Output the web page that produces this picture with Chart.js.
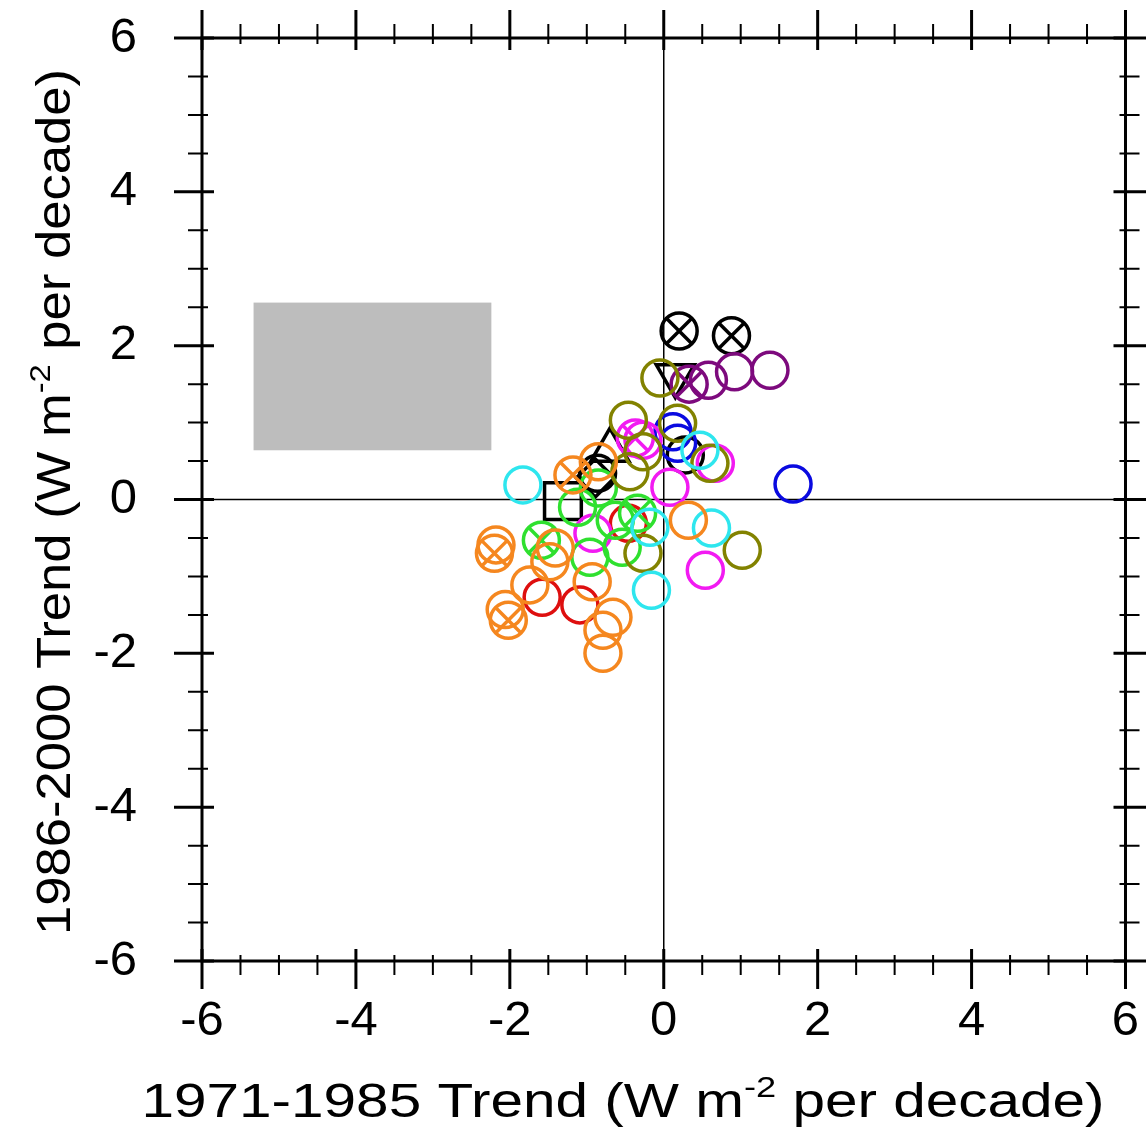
<!DOCTYPE html>
<html>
<head>
<meta charset="utf-8">
<script src="https://cdn.jsdelivr.net/npm/chart.js@4.4.0/dist/chart.umd.min.js"></script>
<style>
    html, body { margin: 0; padding: 0; background: #fff; overflow: hidden; }
    #wrap { width: 1146px; height: 1147px; overflow: hidden; }
</style>
</head>
<body>
<div id="wrap"><canvas id="trendChart" width="1155" height="1147"></canvas></div>
<script>
// Axis ticks
const majorTicks = [-6, -4, -2, 0, 2, 4, 6];
const minorTicks = [-5.5, -5, -4.5, -3.5, -3, -2.5, -1.5, -1, -0.5, 0.5, 1, 1.5, 2.5, 3, 3.5, 4.5, 5, 5.5];

// Shaded box (x range, y range)
const boxX = [-5.33, -2.24];
const boxY = [0.64, 2.56];

// Rings, grouped by colour: [1971-1985 trend, 1986-2000 trend]
const orangeRings = [[-0.85, 0.49], [-2.18, -0.59], [-2.06, -1.43], [-1.74, -1.11], [-1.41, -0.63],
    [-1.48, -0.81], [-0.93, -1.07], [-0.66, -1.53], [-0.79, -1.70], [-0.79, -2.00], [0.32, -0.27]];
const orangeCrossed = [[-1.18, 0.32], [-2.20, -0.70], [-2.02, -1.57]];
const cyanRings = [[-1.83, 0.19], [-0.18, -0.36], [0.62, -0.37], [-0.16, -1.18], [0.47, 0.64]];
const redRings = [[-1.58, -1.27], [-1.09, -1.37], [-0.46, -0.31]];
const greenRings = [[-1.12, -0.10], [-0.85, 0.15], [-0.63, -0.27], [-0.96, -0.75], [-0.54, -0.62]];
const greenCrossed = [[-1.59, -0.53], [-0.34, -0.18]];
const magentaRings = [[-0.27, 0.77], [-0.92, -0.44], [0.08, 0.16], [0.67, 0.47], [0.54, -0.92]];
const magentaCrossed = [[-0.37, 0.80]];
const oliveRings = [[-0.05, 1.58], [-0.46, 1.03], [-0.27, 0.62], [-0.44, 0.36], [0.18, 0.99],
    [0.60, 0.47], [1.02, -0.66], [-0.27, -0.70]];
const blueRings = [[0.12, 0.88], [0.18, 0.73], [1.68, 0.20]];
const purpleRings = [[0.58, 1.55], [0.92, 1.66], [1.38, 1.68]];
const purpleCrossed = [[0.33, 1.50]];
const blackRings = [[0.28, 0.58], [-0.86, 0.34]];
const blackCrossed = [[0.20, 2.19], [0.88, 2.13]];
const blackSquare = [[-1.31, -0.02]];
const blackDiamond = [[-0.89, 0.28]];
const blackTriUp = [[-0.70, 0.64]];
const blackTriDown = [[0.15, 1.61]];

const FONT = "'Liberation Sans', Arial, Helvetica, sans-serif";
const RING = 18;

function toPoints(list) {
    return list.map(p => ({ x: p[0], y: p[1] }));
}

function markerSet(list, color, style, radius, rotation) {
    return {
        data: toPoints(list),
        pointStyle: style,
        pointRadius: radius,
        pointHoverRadius: radius,
        pointRotation: rotation || 0,
        borderColor: color,
        pointBorderColor: color,
        pointBackgroundColor: 'rgba(0,0,0,0)',
        pointBorderWidth: 3.5,
        pointHoverBorderWidth: 3.5,
        showLine: false,
        clip: false
    };
}

// rings plus an X drawn on top of them
function crossedSets(list, color) {
    return [
        markerSet(list, color, 'circle', RING),
        markerSet(list, color, 'crossRot', RING)
    ];
}

const datasets = [
    markerSet(orangeRings, '#f5871f', 'circle', RING),
    ...crossedSets(orangeCrossed, '#f5871f'),
    markerSet(cyanRings, '#2ee6ee', 'circle', RING),
    markerSet(oliveRings, '#828200', 'circle', RING),
    markerSet(greenRings, '#2fe02f', 'circle', RING),
    ...crossedSets(greenCrossed, '#2fe02f'),
    markerSet(magentaRings, '#f21af2', 'circle', RING),
    ...crossedSets(magentaCrossed, '#f21af2'),
    markerSet(redRings, '#de0f0f', 'circle', RING),
    markerSet(blueRings, '#0a0ae0', 'circle', RING),
    markerSet(purpleRings, '#7d0a7d', 'circle', RING),
    ...crossedSets(purpleCrossed, '#7d0a7d'),
    markerSet(blackRings, '#000', 'circle', RING),
    ...crossedSets(blackCrossed, '#000'),
    markerSet(blackSquare, '#000', 'rect', 26),
    markerSet(blackDiamond, '#000', 'rectRot', 19),
    markerSet(blackTriUp, '#000', 'triangle', 22),
    markerSet(blackTriDown, '#000', 'triangle', 22, 180)
];

// draw text with a raised "-2" part, stretched to a target width
function drawSupTitle(ctx, before, sup, after, size, width) {
    const supSize = size * 0.62;
    ctx.font = size + 'px ' + FONT;
    const w1 = ctx.measureText(before).width;
    const w3 = ctx.measureText(after).width;
    ctx.font = supSize + 'px ' + FONT;
    const w2 = ctx.measureText(sup).width;
    const total = w1 + w2 + w3;
    ctx.scale(width / total, 1);
    ctx.textAlign = 'left';
    ctx.textBaseline = 'alphabetic';
    let x = -total / 2;
    ctx.font = size + 'px ' + FONT;
    ctx.fillText(before, x, 0);
    x += w1;
    ctx.font = supSize + 'px ' + FONT;
    ctx.fillText(sup, x, -size * 0.42);
    x += w2;
    ctx.font = size + 'px ' + FONT;
    ctx.fillText(after, x, 0);
}

const framePlugin = {
    id: 'framePlugin',
    beforeDatasetsDraw(chart) {
        const ctx = chart.ctx;
        const xs = chart.scales.x, ys = chart.scales.y;
        const area = chart.chartArea;
        ctx.save();
        // grey box
        ctx.fillStyle = '#bdbdbd';
        const bx0 = xs.getPixelForValue(boxX[0]), bx1 = xs.getPixelForValue(boxX[1]);
        const by0 = ys.getPixelForValue(boxY[0]), by1 = ys.getPixelForValue(boxY[1]);
        ctx.fillRect(bx0, by1, bx1 - bx0, by0 - by1);
        // zero lines
        ctx.strokeStyle = '#000';
        ctx.lineWidth = 1.5;
        ctx.beginPath();
        const x0 = xs.getPixelForValue(0), y0 = ys.getPixelForValue(0);
        ctx.moveTo(x0, area.top); ctx.lineTo(x0, area.bottom);
        ctx.moveTo(area.left, y0); ctx.lineTo(area.right, y0);
        ctx.stroke();
        ctx.restore();
    },
    afterDatasetsDraw(chart) {
        const ctx = chart.ctx;
        const xs = chart.scales.x, ys = chart.scales.y;
        const a = chart.chartArea;
        ctx.save();
        ctx.strokeStyle = '#000';
        ctx.lineCap = 'butt';
        // border
        ctx.lineWidth = 3;
        ctx.strokeRect(a.left, a.top, a.right - a.left, a.bottom - a.top);

        function ticks(values, outLen, inLen, lw) {
            ctx.lineWidth = lw;
            ctx.beginPath();
            values.forEach(v => {
                const px = xs.getPixelForValue(v);
                const py = ys.getPixelForValue(v);
                // bottom and top
                ctx.moveTo(px, a.bottom - inLen); ctx.lineTo(px, a.bottom + outLen);
                ctx.moveTo(px, a.top + inLen); ctx.lineTo(px, a.top - outLen);
                // left and right
                ctx.moveTo(a.left + inLen, py); ctx.lineTo(a.left - outLen, py);
                ctx.moveTo(a.right - inLen, py); ctx.lineTo(a.right + outLen, py);
            });
            ctx.stroke();
        }
        ticks(majorTicks, 28, 12, 3);
        ticks(minorTicks, 14, 6, 2);

        // axis titles
        ctx.fillStyle = '#000';
        ctx.save();
        ctx.translate(623, 1117);
        drawSupTitle(ctx, '1971-1985 Trend (W m', '-2', ' per decade)', 48, 963);
        ctx.restore();

        ctx.save();
        ctx.translate(70, 502);
        ctx.rotate(-Math.PI / 2);
        drawSupTitle(ctx, '1986-2000 Trend (W m', '-2', ' per decade)', 48, 866);
        ctx.restore();
        ctx.restore();
    }
};

const tickFont = { family: FONT, size: 49 };

new Chart(document.getElementById('trendChart').getContext('2d'), {
    type: 'scatter',
    data: { datasets: datasets },
    options: {
        responsive: false,
        devicePixelRatio: 1,
        animation: false,
        events: [],
        layout: { padding: { left: 0, top: 38, right: 12, bottom: 0 } },
        plugins: {
            legend: { display: false },
            tooltip: { enabled: false },
            title: { display: false }
        },
        scales: {
            x: {
                type: 'linear',
                min: -6,
                max: 6,
                afterBuildTicks: s => { s.ticks = majorTicks.map(v => ({ value: v })); },
                afterFit: s => { s.height = 186; s.paddingLeft = 0; s.paddingRight = 0; },
                grid: { display: false, drawTicks: false },
                border: { display: false },
                ticks: { font: tickFont, color: '#000', padding: 31, maxRotation: 0, autoSkip: false }
            },
            y: {
                type: 'linear',
                min: -6,
                max: 6,
                afterBuildTicks: s => { s.ticks = majorTicks.map(v => ({ value: v })); },
                afterFit: s => { s.width = 202; s.paddingTop = 0; s.paddingBottom = 0; },
                grid: { display: false, drawTicks: false },
                border: { display: false },
                ticks: { font: tickFont, color: '#000', padding: 65, autoSkip: false }
            }
        }
    },
    plugins: [framePlugin]
});
</script>
</body>
</html>
